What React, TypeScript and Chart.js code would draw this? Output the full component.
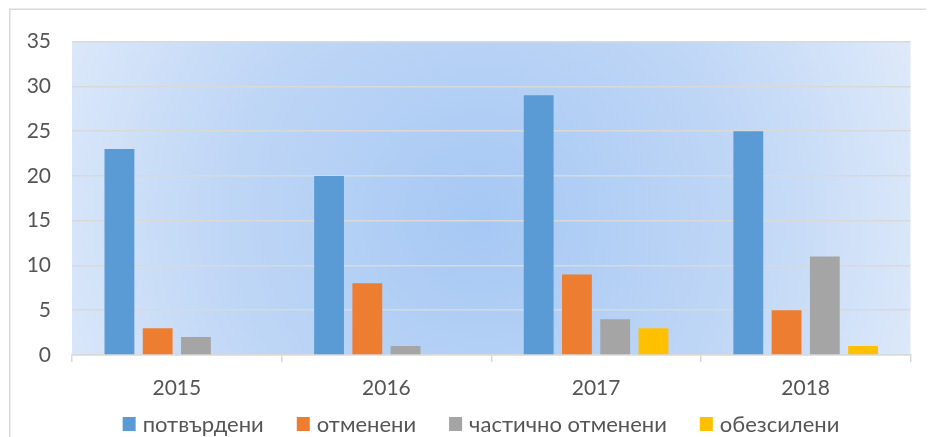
import React, { useEffect, useRef } from 'react';
import { Chart, registerables } from 'chart.js';

Chart.register(...registerables);

const categories = ['2015', '2016', '2017', '2018'];
const seriesNames = ['потвърдени', 'отменени', 'частично отменени', 'обезсилени'];
const confirmed = [23, 20, 29, 25];
const revoked = [3, 8, 9, 5];
const partiallyRevoked = [2, 1, 4, 11];
const annulled = [0, 0, 3, 1];
const seriesColors = ['#5b9bd5', '#ed7d31', '#a5a5a5', '#ffc000'];
const yMin = 0;
const yMax = 35;
const yStep = 5;

const FONT = 'Lato, "Open Sans", "Noto Sans", sans-serif';
const TEXT = '#555555';
const GRID = '#d9d9d9';

const bgPlugin = {
  id: 'bgPlugin',
  beforeDraw(chart: any) {
    const { ctx, chartArea, width, height } = chart;
    ctx.save();
    ctx.fillStyle = '#ffffff';
    ctx.fillRect(0, 0, width, height);
    ctx.strokeStyle = GRID;
    ctx.lineWidth = 1.5;
    ctx.beginPath();
    ctx.moveTo(1.75, height);
    ctx.lineTo(1.75, 1.25);
    ctx.lineTo(width, 1.25);
    ctx.stroke();
    const { left, right, top, bottom } = chartArea;
    const cx = (left + right) / 2 - 10;
    const cy = (top + bottom) / 2 + 20;
    const r = (right - left) * 0.58;
    const g = ctx.createRadialGradient(cx, cy, 0, cx, cy, r);
    g.addColorStop(0, '#a6c8f4');
    g.addColorStop(0.55, '#c0d7f6');
    g.addColorStop(1, '#e2ecfa');
    ctx.fillStyle = g;
    ctx.fillRect(left, top, right - left, bottom - top);
    ctx.restore();
  },
};

const legendPlugin = {
  id: 'customLegend',
  afterDraw(chart: any) {
    const { ctx } = chart;
    ctx.save();
    ctx.font = `22px ${FONT}`;
    ctx.textBaseline = 'middle';
    ctx.textAlign = 'left';
    const boxW = 13;
    const boxH = 14;
    const textGap = 7;
    const itemGap = 33;
    const items = chart.data.datasets.map((d: any) => ({
      label: d.label,
      color: d.backgroundColor,
      w: boxW + textGap + ctx.measureText(d.label).width,
    }));
    const total = items.reduce((s: number, it: any) => s + it.w, 0) + itemGap * (items.length - 1);
    let x = 473 - total / 2;
    const y = 416;
    for (const it of items) {
      ctx.fillStyle = it.color;
      ctx.fillRect(x, y - boxH / 2, boxW, boxH);
      ctx.fillStyle = TEXT;
      ctx.fillText(it.label, x + boxW + textGap, y + 1);
      x += it.w + itemGap;
    }
    ctx.restore();
  },
};

export default function App() {
  const ref = useRef<HTMLCanvasElement | null>(null);

  useEffect(() => {
    if (!ref.current) return;
    const seriesData = [confirmed, revoked, partiallyRevoked, annulled];
    const chart = new Chart(ref.current, {
      type: 'bar',
      data: {
        labels: categories,
        datasets: seriesNames.map((name, i) => ({
          label: name,
          data: seriesData[i],
          backgroundColor: seriesColors[i],
          borderWidth: 0,
          categoryPercentage: 0.73,
          barPercentage: 0.78,
        })),
      },
      options: {
        responsive: false,
        animation: false,
        layout: { padding: { left: 0, top: 30, right: 23.5, bottom: 32 } },
        plugins: {
          legend: { display: false },
          tooltip: { enabled: false },
        },
        scales: {
          x: {
            grid: {
              display: true,
              drawOnChartArea: false,
              drawTicks: true,
              tickLength: 7,
              color: GRID,
              lineWidth: 1.5,
              offset: true,
            },
            border: { display: true, color: GRID, width: 1.5 },
            ticks: {
              color: TEXT,
              font: { family: FONT, size: 21 },
              padding: 14,
            },
            afterFit(scale: any) {
              scale.height = 50;
            },
          },
          y: {
            min: yMin,
            max: yMax,
            ticks: {
              stepSize: yStep,
              color: TEXT,
              font: { family: FONT, size: 21 },
              padding: 21,
            },
            grid: {
              color: GRID,
              lineWidth: 1.5,
              drawTicks: false,
            },
            border: { display: false },
            afterFit(scale: any) {
              scale.width = 64;
            },
          },
        },
      },
      plugins: [bgPlugin, legendPlugin],
    });
    return () => chart.destroy();
  }, []);

  return (
    <div style={{ width: 926, height: 429, position: 'relative' }}>
      <canvas ref={ref} width={926} height={429} style={{ display: 'block' }} />
    </div>
  );
}
